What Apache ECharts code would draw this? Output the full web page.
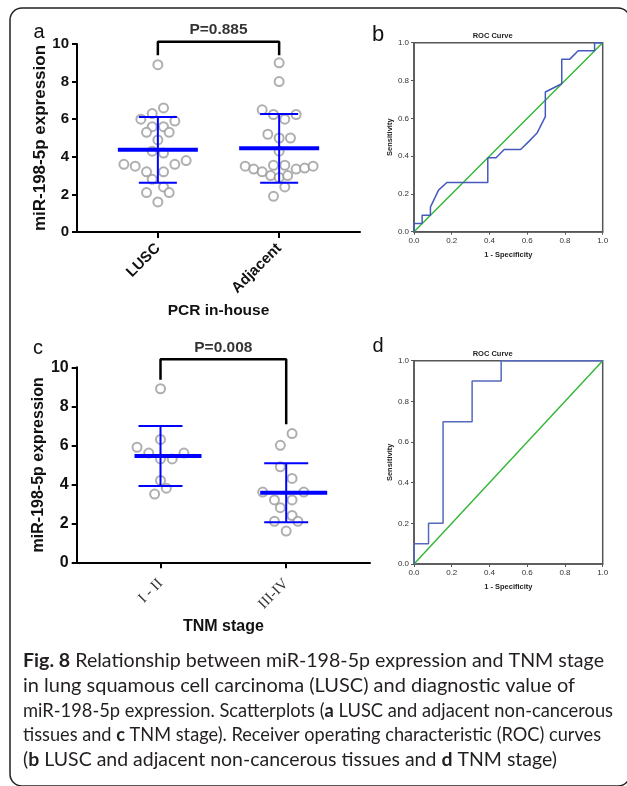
<!DOCTYPE html>
<html>
<head>
<meta charset="utf-8">
<script src="https://cdn.jsdelivr.net/npm/echarts@6/dist/echarts.min.js"></script>
<style>
html,body{margin:0;padding:0;background:#fff;}
#chart{width:627px;height:786px;}
</style>
</head>
<body>
<div id="chart"></div>
<script>
// ---------- data ----------
const catsA = ['LUSC', 'Adjacent'];
const catsC = ['I - II', 'III-IV'];
const catPos = [1, 2.5];
// [horizontal jitter step, expression]
const luscPts = [[0,8.9],[1,6.6],[-1,6.3],[-3,6.0],[3,5.9],[-1,5.6],[1,5.6],[-2,5.3],[2,5.3],[0,4.9],[-1,4.3],[1,4.2],[-6,3.6],[-4,3.5],[3,3.6],[5,3.8],[-2,3.2],[1,3.2],[-1,2.8],[1,2.4],[-2,2.1],[2,2.1],[0,1.6]];
const adjPts = [[0,9.0],[0,8.0],[-3,6.5],[-1,6.25],[1,6.0],[3,6.25],[-2,5.2],[0,5.0],[2,5.0],[0,4.3],[-6,3.5],[-4.5,3.35],[-3,3.2],[-1,3.55],[1,3.55],[-1.5,3.0],[0,2.9],[1.5,3.0],[3,3.35],[4.5,3.4],[6,3.5],[1,2.4],[-1,1.9]];
const meanA = [4.38, 4.45];
const lowA = [2.62, 2.62];
const highA = [6.12, 6.28];
const pA = 'P=0.885';
const bracketA = [9.4, 10.12, 9.4]; // left end, top, right end

const st12Pts = [[0,8.9],[0,6.3],[-4,5.9],[-2,5.6],[4,5.6],[0,5.3],[2,5.3],[0,4.2],[1,3.8],[-1,3.5]];
const st34Pts = [[1,6.6],[-1,6.0],[-1,4.9],[1,4.3],[-4,3.6],[3,3.6],[-2,3.2],[1,3.2],[-1,2.8],[1,2.4],[-2,2.1],[2,2.1],[0,1.6]];
const meanC = [5.45, 3.57];
const lowC = [3.91, 2.05];
const highC = [6.99, 5.08];
const pC = 'P=0.008';
const bracketC = [9.36, 10.41, 7.08];

const rocB = [[0,0],[0,0.043],[0.043,0.043],[0.043,0.087],[0.087,0.087],[0.087,0.13],[0.13,0.22],[0.174,0.26],[0.391,0.26],[0.391,0.391],[0.435,0.391],[0.478,0.435],[0.565,0.435],[0.609,0.478],[0.652,0.522],[0.696,0.609],[0.696,0.739],[0.783,0.783],[0.783,0.913],[0.826,0.913],[0.87,0.957],[0.957,0.957],[0.957,1.0],[1,1]];
const rocD = [[0,0],[0,0.1],[0.077,0.1],[0.077,0.2],[0.154,0.2],[0.154,0.7],[0.308,0.7],[0.308,0.9],[0.462,0.9],[0.462,1.0],[1,1]];
const refLine = [[0,0],[1,1]];

const yTicksExpr = [0, 2, 4, 6, 8, 10];

const captionLines = [
  '{b|Fig. 8} Relationship between miR-198-5p expression and TNM stage',
  'in lung squamous cell carcinoma (LUSC) and diagnostic value of',
  'miR-198-5p expression. Scatterplots ({b|a} LUSC and adjacent non-cancerous',
  'tissues and {b|c} TNM stage). Receiver operating characteristic (ROC) curves',
  '({b|b} LUSC and adjacent non-cancerous tissues and {b|d} TNM stage)'
];

// ---------- layout / style ----------
const FONT = '"Liberation Sans", Arial, sans-serif';
const CAPFONT = 'Lato, "Open Sans", sans-serif';
const CAP_SIZE = 19.5;
const CAP_LEFT = 23;
const CAP_TOP = 661;       // centre of first line
const CAP_LH = 24.7;
const CAP_RIGHT = [604, 575, 613, 601, 557]; // right edge of each caption line
const STEP = 0.07;

function jitter(pts, ci) { return pts.map(p => [catPos[ci] + p[0] * STEP, p[1]]); }
function barData(mean, low, high) { return mean.map((m, i) => [catPos[i], m, low[i], high[i]]); }

const measureCtx = document.createElement('canvas').getContext('2d');
function lineWidth(line) {
  let w = 0;
  line.replace(/\{b\|([^}]*)\}|([^{]+)/g, (m, b, n) => {
    measureCtx.font = (b ? 'bold ' : '') + CAP_SIZE + 'px ' + CAPFONT;
    w += measureCtx.measureText(b || n).width;
    return m;
  });
  return w;
}

function makeBarRenderer(leftExt, rightExt, capHalf, meanWidth) {
  return function (params, api) {
    const x = api.value(0), m = api.value(1), lo = api.value(2), hi = api.value(3);
    const pm = api.coord([x, m]), pl = api.coord([x, lo]), ph = api.coord([x, hi]);
    const blue = '#0000ff';
    return {
      type: 'group',
      children: [
        {type: 'line', shape: {x1: pl[0], y1: pl[1], x2: ph[0], y2: ph[1]}, style: {stroke: blue, lineWidth: 2}},
        {type: 'line', shape: {x1: ph[0] - capHalf, y1: ph[1], x2: ph[0] + capHalf, y2: ph[1]}, style: {stroke: blue, lineWidth: 2}},
        {type: 'line', shape: {x1: pl[0] - capHalf, y1: pl[1], x2: pl[0] + capHalf, y2: pl[1]}, style: {stroke: blue, lineWidth: 2}},
        {type: 'line', shape: {x1: pm[0] - leftExt, y1: pm[1], x2: pm[0] + rightExt, y2: pm[1]}, style: {stroke: blue, lineWidth: meanWidth}}
      ]
    };
  };
}

function scatterXAxis(gi, cats, margin, labelStyle) {
  return {
    gridIndex: gi, type: 'value', min: 0, max: 3.5,
    axisLine: {show: true, lineStyle: {color: '#000', width: 2}},
    axisTick: {show: true, length: 6, lineStyle: {color: '#000', width: 2}, customValues: catPos},
    axisLabel: Object.assign({
      customValues: catPos, rotate: 45, margin: margin,
      formatter: v => cats[catPos.indexOf(v)] || ''
    }, labelStyle),
    splitLine: {show: false}
  };
}
function scatterYAxis(gi, nameGap, fs, nameFs) {
  return {
    gridIndex: gi, type: 'value', min: 0, max: 10, interval: 2,
    name: 'miR-198-5p expression', nameLocation: 'middle', nameGap: nameGap, nameRotate: 90,
    nameTextStyle: {fontFamily: FONT, fontWeight: 'bold', fontSize: nameFs, color: '#111'},
    axisLine: {show: true, lineStyle: {color: '#000', width: 2}},
    axisTick: {show: true, length: 5, lineStyle: {color: '#000', width: 2}},
    axisLabel: {fontFamily: FONT, fontWeight: 'bold', fontSize: fs, color: '#111', margin: 8, customValues: yTicksExpr},
    splitLine: {show: false}
  };
}
function rocXAxis(gi, gap) {
  return {
    gridIndex: gi, type: 'value', min: 0, max: 1, interval: 0.2,
    name: '1 - Specificity', nameLocation: 'middle', nameGap: gap,
    nameTextStyle: {fontFamily: FONT, fontWeight: 'bold', fontSize: 7.5, color: '#222'},
    axisLine: {show: true, lineStyle: {color: '#555', width: 1.5}},
    axisTick: {show: true, length: 3, lineStyle: {color: '#555', width: 1}},
    axisLabel: {fontFamily: FONT, fontSize: 8, color: '#333', margin: 5, formatter: v => v.toFixed(1)},
    splitLine: {show: false}
  };
}
function rocYAxis(gi) {
  return {
    gridIndex: gi, type: 'value', min: 0, max: 1, interval: 0.2,
    name: 'Sensitivity', nameLocation: 'middle', nameGap: 20, nameRotate: 90,
    nameTextStyle: {fontFamily: FONT, fontWeight: 'bold', fontSize: 7.5, color: '#222'},
    axisLine: {show: true, lineStyle: {color: '#555', width: 1.5}},
    axisTick: {show: true, length: 3, lineStyle: {color: '#555', width: 1}},
    axisLabel: {fontFamily: FONT, fontSize: 8, color: '#333', margin: 5, formatter: v => v.toFixed(1)},
    splitLine: {show: false}
  };
}

const pointStyle = {color: '#fff', borderColor: '#9b9b9b', borderWidth: 2};
function pointSeries(xi, data) {
  return {type: 'scatter', xAxisIndex: xi, yAxisIndex: xi, symbol: 'circle', symbolSize: 9,
    itemStyle: pointStyle, data: data, z: 2, silent: true};
}
function bracketSeries(xi, b, label) {
  return [
    {type: 'line', xAxisIndex: xi, yAxisIndex: xi, clip: false, showSymbol: false, silent: true,
      lineStyle: {color: '#000', width: 2.5}, z: 4,
      data: [[catPos[0], b[0]], [catPos[0], b[1]], [catPos[1], b[1]], [catPos[1], b[2]]]},
    {type: 'scatter', xAxisIndex: xi, yAxisIndex: xi, clip: false, symbolSize: 0, silent: true,
      data: [[(catPos[0] + catPos[1]) / 2, b[1]]],
      label: {show: true, position: 'top', distance: 4, formatter: label,
        fontFamily: FONT, fontWeight: 'bold', fontSize: 15.5, color: '#000'}}
  ];
}

const captionGraphics = captionLines.map((line, i) => {
  const target = CAP_RIGHT[i] - CAP_LEFT;
  const natural = lineWidth(line) || target;
  return {
    type: 'text', x: CAP_LEFT, y: CAP_TOP + i * CAP_LH, scaleX: target / natural, silent: true,
    style: {
      text: line, font: CAP_SIZE + 'px ' + CAPFONT, fill: '#231f20',
      align: 'left', verticalAlign: 'middle',
      rich: {b: {fontWeight: 'bold', fontFamily: CAPFONT, fontSize: CAP_SIZE, fill: '#231f20'}}
    }
  };
});

const chart = echarts.init(document.getElementById('chart'), null, {renderer: 'canvas'});
const gridBase = {containLabel: false, outerBoundsMode: 'none'};
const option = {
  backgroundColor: '#fff',
  animation: false,
  grid: [
    Object.assign({left: 77, top: 44, width: 283, height: 188}, gridBase),
    Object.assign({left: 414, top: 42.7, width: 188.7, height: 189, show: true, borderColor: '#555', borderWidth: 1.5}, gridBase),
    Object.assign({left: 76.7, top: 367.3, width: 293.3, height: 195}, gridBase),
    Object.assign({left: 414, top: 360.7, width: 188.7, height: 203.3, show: true, borderColor: '#555', borderWidth: 1.5}, gridBase)
  ],
  xAxis: [
    Object.assign(scatterXAxis(0, catsA, 14, {fontFamily: FONT, fontWeight: 'bold', fontSize: 15, color: '#111'}),
      {name: 'PCR in-house', nameLocation: 'middle', nameGap: 71,
       nameTextStyle: {fontFamily: FONT, fontWeight: 'bold', fontSize: 15.5, color: '#111'}}),
    rocXAxis(1, 19.5),
    Object.assign(scatterXAxis(2, catsC, 19, {fontFamily: '"Liberation Serif", "Times New Roman", serif', fontSize: 15, color: '#333'}),
      {name: 'TNM stage', nameLocation: 'middle', nameGap: 56,
       nameTextStyle: {fontFamily: FONT, fontWeight: 'bold', fontSize: 16, color: '#111'}}),
    rocXAxis(3, 19)
  ],
  yAxis: [
    scatterYAxis(0, 25.5, 15, 17),
    rocYAxis(1),
    scatterYAxis(2, 27, 16, 16),
    rocYAxis(3)
  ],
  series: [
    pointSeries(0, jitter(luscPts, 0)),
    pointSeries(0, jitter(adjPts, 1)),
    {type: 'custom', xAxisIndex: 0, yAxisIndex: 0, silent: true, z: 3,
      renderItem: makeBarRenderer(40, 40, 19, 4), data: barData(meanA, lowA, highA)},
    ...bracketSeries(0, bracketA, pA),

    {type: 'line', xAxisIndex: 1, yAxisIndex: 1, showSymbol: false, silent: true,
      lineStyle: {color: '#33b535', width: 1.4}, data: refLine, z: 3},
    {type: 'line', xAxisIndex: 1, yAxisIndex: 1, showSymbol: false, silent: true,
      lineStyle: {color: '#4659bd', width: 1.5}, data: rocB, z: 4},

    pointSeries(2, jitter(st12Pts, 0)),
    pointSeries(2, jitter(st34Pts, 1)),
    {type: 'custom', xAxisIndex: 2, yAxisIndex: 2, silent: true, z: 3,
      renderItem: makeBarRenderer(26, 41, 22, 4), data: barData(meanC, lowC, highC)},
    ...bracketSeries(2, bracketC, pC),

    {type: 'line', xAxisIndex: 3, yAxisIndex: 3, showSymbol: false, silent: true,
      lineStyle: {color: '#33b535', width: 1.4}, data: refLine, z: 3},
    {type: 'line', xAxisIndex: 3, yAxisIndex: 3, showSymbol: false, silent: true,
      lineStyle: {color: '#5468bd', width: 1.5}, data: rocD, z: 4}
  ],
  graphic: [
    {type: 'rect', shape: {x: 10, y: 8, width: 620, height: 778, r: 12},
      style: {fill: 'none', stroke: '#222', lineWidth: 1.5}, silent: true, z: 0},
    {type: 'text', x: 492.7, y: 36, style: {text: 'ROC Curve', font: 'bold 7.5px ' + FONT, fill: '#222', align: 'center', verticalAlign: 'middle'}},
    {type: 'text', x: 492.7, y: 354.3, style: {text: 'ROC Curve', font: 'bold 7.5px ' + FONT, fill: '#222', align: 'center', verticalAlign: 'middle'}},
    {type: 'text', x: 39, y: 32, style: {text: 'a', font: '20px ' + FONT, fill: '#111', align: 'center', verticalAlign: 'middle'}},
    {type: 'text', x: 378, y: 35, style: {text: 'b', font: '22px ' + FONT, fill: '#111', align: 'center', verticalAlign: 'middle'}},
    {type: 'text', x: 38, y: 348, style: {text: 'c', font: '20px ' + FONT, fill: '#111', align: 'center', verticalAlign: 'middle'}},
    {type: 'text', x: 378, y: 346, style: {text: 'd', font: '20px ' + FONT, fill: '#111', align: 'center', verticalAlign: 'middle'}},
    ...captionGraphics
  ]
};
chart.setOption(option);
</script>
</body>
</html>
